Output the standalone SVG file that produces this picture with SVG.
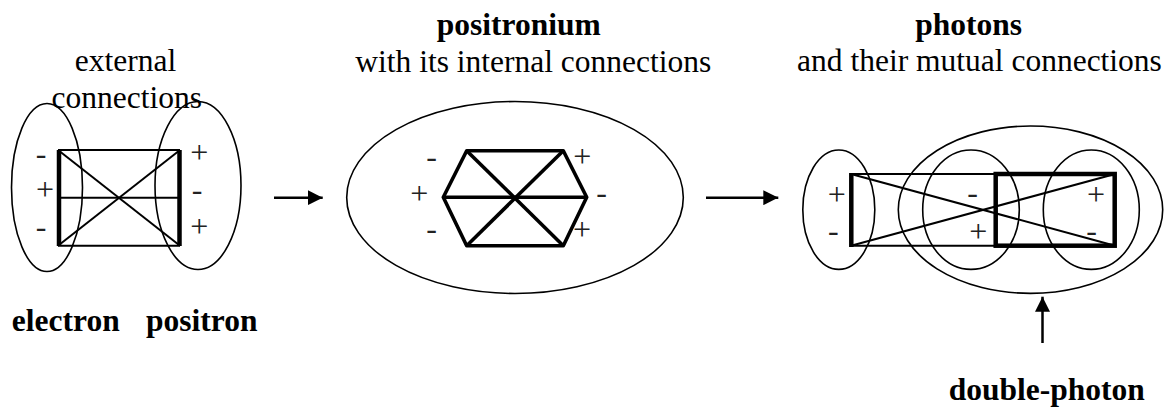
<svg xmlns="http://www.w3.org/2000/svg" width="1167" height="408" viewBox="0 0 1167 408">
<style>
.t{font-family:"Liberation Serif","Times New Roman",serif;font-size:31.5px;fill:#000;text-anchor:middle}
.b{font-weight:bold}
.s{font-family:"Liberation Serif","Times New Roman",serif;font-size:32px;fill:#222;text-anchor:middle}
.e{fill:none;stroke:#000;stroke-width:1.6}
.thin{stroke:#000;stroke-width:2;fill:none}
.thick{stroke:#000;stroke-width:4.5;fill:none}
.hex{stroke:#000;stroke-width:3.6;fill:none;stroke-linejoin:round}
.arr{stroke:#000;stroke-width:2.5;fill:none}
</style>
<defs>
<marker id="ah" viewBox="0 0 10 10" refX="10" refY="5" markerUnits="userSpaceOnUse" markerWidth="15" markerHeight="15" orient="auto">
<path d="M0,0 L10,5 L0,10 Z" fill="#000"/>
</marker>
</defs>
<rect width="1167" height="408" fill="#fff"/>

<g id="titles">
<text class="t" x="125.5" y="70.7">external</text>
<text class="t" x="126.7" y="108.3">connections</text>
<text class="t b" x="518.8" y="35">positronium</text>
<text class="t" x="533.3" y="71.7">with its internal connections</text>
<text class="t b" x="968.7" y="35">photons</text>
<text class="t" x="979.5" y="71">and their mutual connections</text>
</g>

<g id="electron-positron">
<line class="thin" x1="58" y1="150" x2="180" y2="150"/>
<line class="thin" x1="58" y1="245.7" x2="180" y2="245.7"/>
<line class="thin" x1="58" y1="197.7" x2="180" y2="197.7"/>
<line class="thin" x1="58" y1="150" x2="180" y2="245.7"/>
<line class="thin" x1="58" y1="245.7" x2="180" y2="150"/>
<line class="thick" x1="59" y1="150" x2="59" y2="246"/>
<line class="thick" x1="179.5" y1="150" x2="179.5" y2="246"/>
</g>
<g id="electron">
<ellipse class="e" cx="47" cy="187.5" rx="35.5" ry="84"/>
<text class="s" x="41" y="164">-</text>
<text class="s" x="45" y="200.3">+</text>
<text class="s" x="41" y="237.2">-</text>
<text class="t b" x="65.8" y="330.7">electron</text>
</g>
<g id="positron">
<ellipse class="e" cx="198" cy="185.5" rx="43" ry="84"/>
<text class="s" x="199.3" y="163">+</text>
<text class="s" x="197" y="199.5">-</text>
<text class="s" x="199.3" y="237">+</text>
<text class="t b" x="201.7" y="330.7">positron</text>
</g>

<g id="positronium">
<ellipse class="e" cx="515" cy="197.5" rx="168.3" ry="96"/>
<polygon class="hex" points="466.7,150.7 563.3,150.7 586.7,197.3 563.3,245.7 466.7,245.7 443.3,197.3"/>
<line class="hex" x1="443.3" y1="197.3" x2="586.7" y2="197.3"/>
<line class="hex" x1="466.7" y1="150.7" x2="563.3" y2="245.7"/>
<line class="hex" x1="563.3" y1="150.7" x2="466.7" y2="245.7"/>
<text class="s" x="431.7" y="166.5">-</text>
<text class="s" x="419.3" y="204">+</text>
<text class="s" x="431.7" y="238.9">-</text>
<text class="s" x="582.3" y="167.3">+</text>
<text class="s" x="601.7" y="203.2">-</text>
<text class="s" x="582" y="240">+</text>
</g>

<g id="photons">
<line class="thin" x1="851" y1="174" x2="996" y2="174"/>
<line class="thin" x1="851" y1="245.7" x2="996" y2="245.7"/>
<line class="thin" x1="851" y1="174" x2="1115" y2="245.7"/>
<line class="thin" x1="851" y1="245.7" x2="1115" y2="174"/>
<line class="thick" x1="851.3" y1="173" x2="851.3" y2="247"/>
<rect class="thick" x="995.7" y="174" width="119" height="71.7"/>
<ellipse class="e" cx="838.8" cy="209.7" rx="36" ry="59.7"/>
<text class="s" x="836.7" y="204.7">+</text>
<text class="s" x="833.3" y="240.5">-</text>
</g>
<g id="photon-2">
<ellipse class="e" cx="971" cy="209.7" rx="48.3" ry="59.7"/>
<text class="s" x="972.7" y="203.2">-</text>
<text class="s" x="978.3" y="242.3">+</text>
</g>
<g id="photon-3">
<ellipse class="e" cx="1091.3" cy="209.7" rx="48" ry="59.7"/>
<text class="s" x="1096" y="205.3">+</text>
<text class="s" x="1091.7" y="240.5">-</text>
</g>
<g id="double-photon">
<ellipse class="e" cx="1030.5" cy="209.7" rx="132.2" ry="83.7"/>
<text class="t b" x="1046.7" y="400">double-photon</text>
</g>

<g id="connectors">
<line class="arr" x1="274" y1="197.7" x2="322.7" y2="197.7" marker-end="url(#ah)"/>
<line class="arr" x1="706" y1="197.7" x2="778.3" y2="197.7" marker-end="url(#ah)"/>
<line class="arr" x1="1042.5" y1="343" x2="1042.5" y2="296.7" marker-end="url(#ah)"/>
</g>
</svg>
